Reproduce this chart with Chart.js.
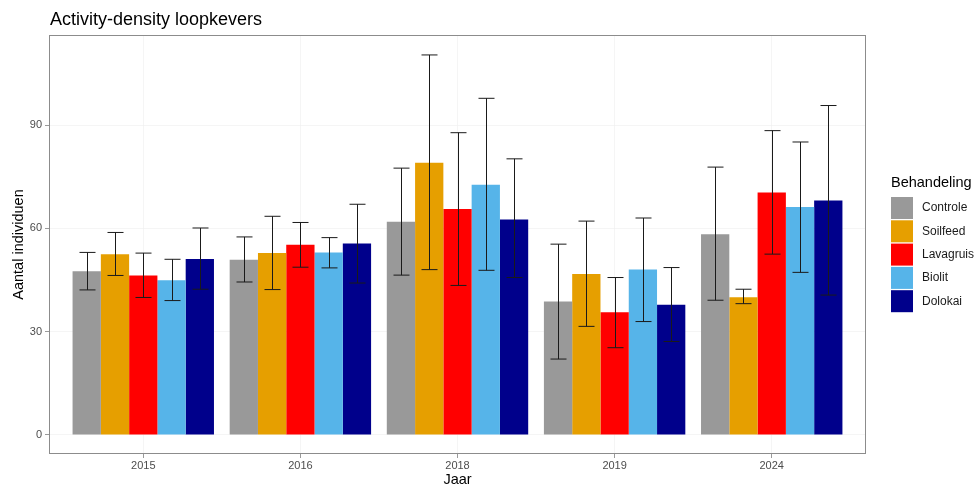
<!DOCTYPE html>
<html>
<head>
<meta charset="utf-8">
<script src="https://cdn.jsdelivr.net/npm/chart.js@4/dist/chart.umd.min.js"></script>
<style>
  body { margin: 0; background: #fff; }
  canvas { display: block; }
</style>
</head>
<body>
<canvas id="myChart" width="976" height="489"></canvas>
<script>
// data
var years = ["2015", "2016", "2018", "2019", "2024"];
var treatments = ["Controle", "Soilfeed", "Lavagruis", "Biolit", "Dolokai"];
var colors = ["#999999", "#E69F00", "#FF0000", "#56B4E9", "#00008B"];
var yTicks = [0, 30, 60, 90];

var controle     = [47.5, 50.9, 61.9, 38.7, 58.3];
var controleLow  = [42.1, 44.4, 46.4, 22.0, 39.1];
var controleHigh = [53.0, 57.5, 77.5, 55.4, 77.8];

var soilfeed     = [52.5, 52.8, 79.1, 46.7, 40.0];
var soilfeedLow  = [46.3, 42.2, 48.0, 31.5, 38.1];
var soilfeedHigh = [58.8, 63.5, 110.4, 62.1, 42.3];

var lavagruis     = [46.3, 55.2, 65.6, 35.6, 70.4];
var lavagruisLow  = [39.9, 48.7, 43.4, 25.3, 52.5];
var lavagruisHigh = [52.8, 61.7, 87.8, 45.7, 88.4];

var biolit     = [44.9, 53.0, 72.7, 48.0, 66.2];
var biolitLow  = [39.0, 48.5, 47.8, 32.9, 47.2];
var biolitHigh = [51.0, 57.3, 97.8, 63.0, 85.1];

var dolokai     = [51.1, 55.6, 62.6, 37.8, 68.1];
var dolokaiLow  = [42.3, 44.1, 45.7, 27.1, 40.6];
var dolokaiHigh = [60.1, 67.0, 80.2, 48.6, 95.7];

var means = [controle, soilfeed, lavagruis, biolit, dolokai];
var lows = [controleLow, soilfeedLow, lavagruisLow, biolitLow, dolokaiLow];
var highs = [controleHigh, soilfeedHigh, lavagruisHigh, biolitHigh, dolokaiHigh];

var fontFamily = "'Liberation Sans', Arial, Helvetica, sans-serif";

var datasets = treatments.map(function (name, d) {
  return {
    label: name,
    backgroundColor: colors[d],
    borderWidth: 0,
    barPercentage: 1.0,
    categoryPercentage: 0.9,
    low: lows[d],
    high: highs[d],
    data: means[d].map(function (v, i) { return { x: i + 1, y: v }; })
  };
});

//error bars, drawn through the scales
var errorBars = {
  id: "errorBars",
  afterDatasetsDraw: function (chart) {
    var ctx = chart.ctx;
    var yScale = chart.scales.y;
    ctx.save();
    ctx.strokeStyle = "#1a1a1a";
    ctx.lineWidth = 1;
    chart.data.datasets.forEach(function (ds, d) {
      var meta = chart.getDatasetMeta(d);
      meta.data.forEach(function (bar, i) {
        var x = Math.round(bar.x) + 0.5;
        var yLo = yScale.getPixelForValue(ds.low[i]);
        var yHi = yScale.getPixelForValue(ds.high[i]);
        var half = 8;
        ctx.beginPath();
        ctx.moveTo(x, yLo);
        ctx.lineTo(x, yHi);
        ctx.moveTo(x - half, yLo);
        ctx.lineTo(x + half, yLo);
        ctx.moveTo(x - half, yHi);
        ctx.lineTo(x + half, yHi);
        ctx.stroke();
      });
    });
    ctx.restore();
  }
};

//panel border, title and legend
var decorations = {
  id: "decorations",
  afterDraw: function (chart) {
    var ctx = chart.ctx;
    var a = chart.chartArea;
    ctx.save();
    ctx.strokeStyle = "#8c8c8c";
    ctx.lineWidth = 1;
    ctx.strokeRect(Math.round(a.left) + 0.5, Math.round(a.top) + 0.5,
                   Math.round(a.right - a.left) - 1, Math.round(a.bottom - a.top) - 1);

    ctx.fillStyle = "#000";
    ctx.textBaseline = "alphabetic";
    ctx.textAlign = "left";
    ctx.font = "18px " + fontFamily;
    ctx.fillText("Activity-density loopkevers", 50, 25);

    ctx.font = "14.5px " + fontFamily;
    ctx.textBaseline = "middle";
    ctx.fillText("Behandeling", 891, 183);

    ctx.font = "12px " + fontFamily;
    treatments.forEach(function (name, d) {
      var top = 197 + d * 23.3;
      ctx.fillStyle = colors[d];
      ctx.fillRect(891, top, 22, 22);
      ctx.fillStyle = "#1a1a1a";
      ctx.fillText(name, 922, top + 11);
    });
    ctx.restore();
  }
};

var ctx = document.getElementById("myChart").getContext("2d");
var myBarChart = new Chart(ctx, {
  type: "bar",
  data: { datasets: datasets },
  options: {
    responsive: false,
    animation: false,
    layout: { padding: { top: 35, right: 110, left: 0, bottom: 0 } },
    plugins: {
      legend: { display: false },
      tooltip: { enabled: false },
      title: { display: false }
    },
    scales: {
      x: {
        type: "linear",
        min: 0.4,
        max: 5.6,
        offset: false,
        afterBuildTicks: function (scale) {
          scale.ticks = years.map(function (y, i) { return { value: i + 1 }; });
        },
        afterFit: function (scale) { scale.height = 35; },
        ticks: {
          autoSkip: false,
          maxRotation: 0,
          padding: 1,
          color: "#4d4d4d",
          font: { family: fontFamily, size: 11 },
          callback: function (value, index) { return years[index]; }
        },
        grid: { offset: false, color: "#eeeeee", lineWidth: 0.6, tickColor: "#555", tickLength: 4 },
        border: { display: false },
        title: {
          display: true,
          text: "Jaar",
          color: "#000",
          font: { family: fontFamily, size: 14.5 },
          padding: { top: 0, bottom: 0 }
        }
      },
      y: {
        min: -5.6,
        max: 116.2,
        afterBuildTicks: function (scale) {
          scale.ticks = yTicks.map(function (v) { return { value: v }; });
        },
        afterFit: function (scale) { scale.width = 49; },
        ticks: {
          padding: 3,
          color: "#4d4d4d",
          font: { family: fontFamily, size: 11 }
        },
        grid: { color: "#eeeeee", lineWidth: 0.6, tickColor: "#555", tickLength: 4 },
        border: { display: false },
        title: {
          display: true,
          text: "Aantal individuen",
          color: "#000",
          font: { family: fontFamily, size: 14.5 },
          padding: { top: 10, bottom: 0 }
        }
      }
    }
  },
  plugins: [errorBars, decorations]
});
</script>
</body>
</html>
